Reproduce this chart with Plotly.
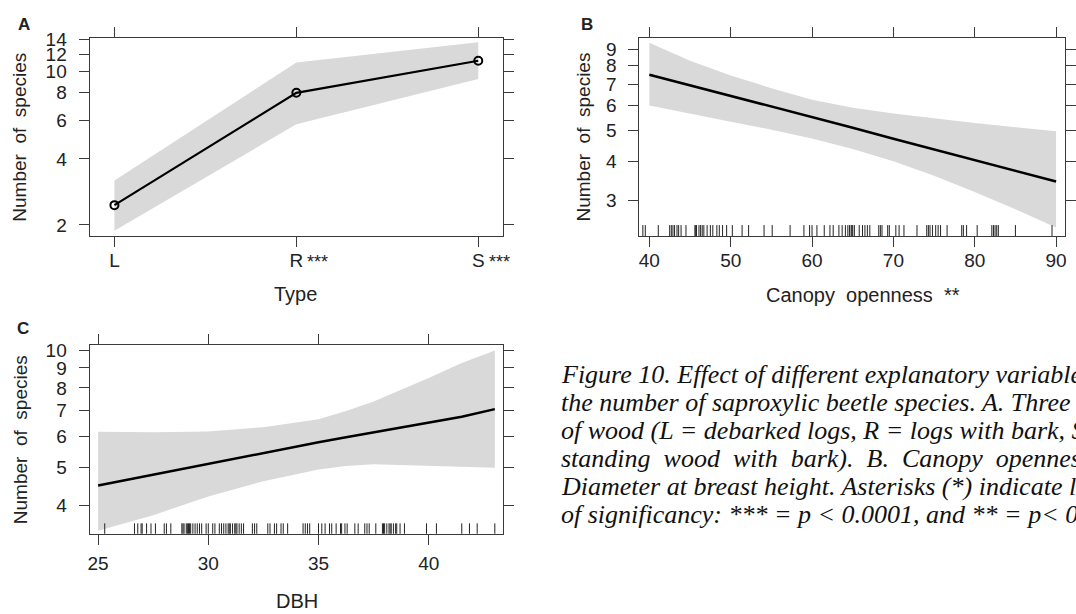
import plotly.graph_objects as go

# ---- Panel A: deadwood type ----
wood_types = ["L", "R", "S"]
type_fit = [2.46, 8.0, 11.2]
type_upper = [3.19, 11.0, 13.6]
type_lower = [1.88, 5.75, 9.25]
type_stars = ["", "***", "***"]
type_ticks = [2, 4, 6, 8, 10, 12, 14]

# ---- Panel B: canopy openness ----
canopy_x = [40, 45, 50, 55, 60, 65, 70, 75, 80, 85, 90]
canopy_fit = [7.5, 6.95, 6.42, 5.95, 5.5, 5.1, 4.71, 4.36, 4.03, 3.73, 3.45]
canopy_upper = [9.45, 8.3, 7.45, 6.8, 6.25, 5.9, 5.66, 5.46, 5.28, 5.12, 4.97]
canopy_lower = [5.99, 5.65, 5.33, 5.03, 4.72, 4.37, 4.0, 3.6, 3.2, 2.82, 2.47]
canopy_ticks = [3, 4, 5, 6, 7, 8, 9]
canopy_xticks = [40, 50, 60, 70, 80, 90]
canopy_rug = [39.2, 39.5, 41.1, 42.5, 42.7, 42.9, 43.1, 43.4, 43.6, 43.9, 44.5,
              45.6, 45.7, 45.8, 46.1, 46.3, 46.5, 46.7, 47.1, 47.5, 47.8, 48.3,
              48.6, 49.0, 49.5, 50.2, 51.4, 52.2, 54.1, 55.1, 57.3, 59.0, 59.7,
              60.0, 60.6, 61.5, 62.2, 62.6, 63.3, 63.7, 64.1, 64.4, 64.6, 64.8,
              64.9, 65.0, 65.2, 65.8, 66.2, 66.5, 66.8, 67.1, 68.2, 68.4, 68.6,
              69.3, 69.5, 70.3, 70.7, 71.3, 72.9, 74.1, 74.3, 74.5, 74.8, 75.2,
              75.5, 75.8, 76.6, 78.4, 78.6, 79.0, 80.3, 82.1, 82.3, 82.5, 82.7,
              82.9, 85.0, 89.5]

# ---- Panel C: DBH ----
dbh_x = [25, 27.5, 30, 32.5, 35, 36.25, 37.5, 38.75, 40, 41.5, 43]
dbh_fit = [4.5, 4.8, 5.12, 5.45, 5.81, 5.98, 6.15, 6.32, 6.5, 6.75, 7.06]
dbh_upper = [6.18, 6.16, 6.19, 6.35, 6.65, 6.98, 7.38, 7.9, 8.48, 9.26, 9.97]
dbh_lower = [3.45, 3.78, 4.22, 4.62, 4.95, 5.05, 5.1, 5.08, 5.05, 5.03, 5.0]
dbh_ticks = [4, 5, 6, 7, 8, 9, 10]
dbh_xticks = [25, 30, 35, 40]
dbh_rug = [25.3, 26.65, 26.8, 26.95, 27.0, 27.2, 27.4, 27.6, 28.0, 28.1, 28.3,
           28.8, 28.85, 28.9, 29.0, 29.05, 29.1, 29.15, 29.2, 29.3, 29.4, 29.5,
           29.6, 29.7, 29.9, 30.0, 30.2, 30.3, 30.5, 30.6, 30.7, 30.8, 30.9,
           30.95, 31.0, 31.1, 31.2, 31.25, 31.3, 31.4, 31.5, 31.6, 32.0, 32.1,
           32.2, 32.7, 32.8, 33.0, 33.1, 33.3, 33.4, 33.6, 34.3, 34.4, 34.5,
           34.6, 35.0, 35.15, 35.3, 35.5, 35.6, 35.8, 36.0, 36.05, 36.2, 36.3,
           36.65, 36.8, 37.1, 37.2, 37.3, 37.6, 37.9, 37.95, 38.0, 38.1, 38.2,
           38.25, 38.3, 38.4, 38.5, 38.55, 38.7, 38.9, 39.9, 40.35, 41.5,
           41.85, 42.2, 43.0]

NB = "\u00a0"
caption_lines = [
    "Figure 10. Effect of different explanatory variables on",
    "the number of saproxylic beetle species. A. Three types",
    "of wood (L = debarked logs, R = logs with bark, S =",
    ("standing wood with bark). B. Canopy openness. C.").replace(" ", NB + " "),
    "Diameter at breast height. Asterisks (*) indicate level",
    "of significancy: *** = p &lt; 0.0001, and ** = p&lt; 0.001.",
]

W, H = 1076, 614
BAND = "#d9d9d9"
AX = "#3a3a3a"
SANS = "Liberation Sans, Arial, sans-serif"
SERIF = "Liberation Serif, Times New Roman, serif"


def px_x(v):
    return v / W


def px_y(v):
    return 1 - v / H


fig = go.Figure()

# Panel A
fig.add_trace(go.Scatter(
    x=wood_types + wood_types[::-1], y=type_upper + type_lower[::-1],
    fill="toself", fillcolor=BAND, line=dict(width=0), mode="lines",
    hoverinfo="skip", xaxis="x", yaxis="y"))
fig.add_trace(go.Scatter(
    x=wood_types, y=type_fit, mode="lines+markers",
    line=dict(color="black", width=2.2),
    marker=dict(symbol="circle-open", size=8, color="black", line=dict(width=2)),
    xaxis="x", yaxis="y"))

# Panel B
fig.add_trace(go.Scatter(
    x=canopy_x + canopy_x[::-1], y=canopy_upper + canopy_lower[::-1],
    fill="toself", fillcolor=BAND, line=dict(width=0), mode="lines",
    hoverinfo="skip", xaxis="x2", yaxis="y2"))
fig.add_trace(go.Scatter(
    x=canopy_x, y=canopy_fit, mode="lines",
    line=dict(color="black", width=2.5),
    xaxis="x2", yaxis="y2"))

# Panel C
fig.add_trace(go.Scatter(
    x=dbh_x + dbh_x[::-1], y=dbh_upper + dbh_lower[::-1],
    fill="toself", fillcolor=BAND, line=dict(width=0),
    mode="lines", hoverinfo="skip", xaxis="x3", yaxis="y3"))
fig.add_trace(go.Scatter(
    x=dbh_x, y=dbh_fit, mode="lines",
    line=dict(color="black", width=2.5),
    xaxis="x3", yaxis="y3"))

# Rug marks along the bottom of panels B and C
shapes = []
for v in canopy_rug:
    shapes.append(dict(type="line", xref="x2", yref="y2 domain", x0=v, x1=v,
                       y0=0, y1=0.055, line=dict(color="#222", width=1)))
for v in dbh_rug:
    shapes.append(dict(type="line", xref="x3", yref="y3 domain", x0=v, x1=v,
                       y0=0, y1=0.055, line=dict(color="#222", width=1)))

axis_style = dict(showline=True, linecolor=AX, linewidth=1, mirror="ticks",
                  ticks="outside", ticklen=10, tickcolor=AX, tickwidth=1,
                  showgrid=False, zeroline=False,
                  tickfont=dict(family=SANS, size=19, color="#222"))

dom_top_x = [px_x(88), px_x(504)]
dom_right_x = [px_x(641), px_x(1069)]
dom_top_y = [px_y(231), px_y(30)]
dom_bot_y = [px_y(532.7), px_y(341)]

fig.update_layout(
    width=W, height=H, margin=dict(l=0, r=0, t=0, b=0),
    paper_bgcolor="white", plot_bgcolor="white", showlegend=False,
    xaxis=dict(domain=dom_top_x, type="category", range=[-0.137, 2.137],
               anchor="y", ticklabelstandoff=-3, **axis_style),
    yaxis=dict(domain=dom_top_y, type="log",
               range=[0.2504, 1.1548], tickvals=type_ticks,
               ticktext=[str(t) for t in type_ticks], anchor="x",
               ticklabelstandoff=8, **axis_style),
    xaxis2=dict(domain=dom_right_x, range=[38.78, 91.1], tickvals=canopy_xticks,
                anchor="y2", ticklabelstandoff=-3, **axis_style),
    yaxis2=dict(domain=dom_top_y, type="log", range=[0.366, 0.992],
                tickvals=canopy_ticks, ticktext=[str(t) for t in canopy_ticks],
                anchor="x2", ticklabelstandoff=8, **axis_style),
    xaxis3=dict(domain=dom_top_x, range=[24.61, 43.38], tickvals=dbh_xticks,
                anchor="y3", ticklabelstandoff=2, **axis_style),
    yaxis3=dict(domain=dom_bot_y, type="log", range=[0.530, 1.014],
                tickvals=dbh_ticks, ticktext=[str(t) for t in dbh_ticks],
                anchor="x3", ticklabelstandoff=8, **axis_style),
    shapes=shapes,
)

ann = []
# significance stars beside the type tick labels
for cat, stars in zip(wood_types, type_stars):
    if stars:
        ann.append(dict(x=cat, xref="x", y=px_y(257), yref="paper", text=stars,
                        showarrow=False, xanchor="left", yanchor="middle",
                        xshift=9, font=dict(family=SANS, size=18, color="#222")))

# axis titles
title_font = dict(family=SANS, size=20, color="#222")
sp = NB + NB
for x, y, txt in [(295, 290, "Type"),
                  (866, 291, "Canopy" + sp + "openness" + sp + "**"),
                  (297, 601, "DBH")]:
    ann.append(dict(x=px_x(x), y=px_y(y), xref="paper", yref="paper", text=txt,
                    showarrow=False, xanchor="center", yanchor="middle",
                    font=title_font))
for x, y in [(18, 130.5), (585, 130.5), (18, 437)]:
    ann.append(dict(x=px_x(x), y=px_y(y), xref="paper", yref="paper",
                    text="Number" + sp + "of" + sp + "species", textangle=-90,
                    showarrow=False, xanchor="center", yanchor="middle",
                    font=dict(family=SANS, size=19, color="#222")))

# panel letters
for x, y, lab in [(22, 17, "A"), (588, 17, "B"), (21, 325, "C")]:
    ann.append(dict(x=px_x(x), y=px_y(y), xref="paper", yref="paper",
                    text="<b>" + lab + "</b>", showarrow=False,
                    xanchor="center", yanchor="middle",
                    font=dict(family=SANS, size=17, color="#222")))

# figure caption
for i, line in enumerate(caption_lines):
    ann.append(dict(x=px_x(560), y=px_y(371.7 + 28.3 * i), xref="paper",
                    yref="paper", text="<i>" + line + "</i>", showarrow=False,
                    xanchor="left", yanchor="middle",
                    font=dict(family=SERIF, size=26, color="#111")))

fig.update_layout(annotations=ann)
fig.write_html("out.html")
